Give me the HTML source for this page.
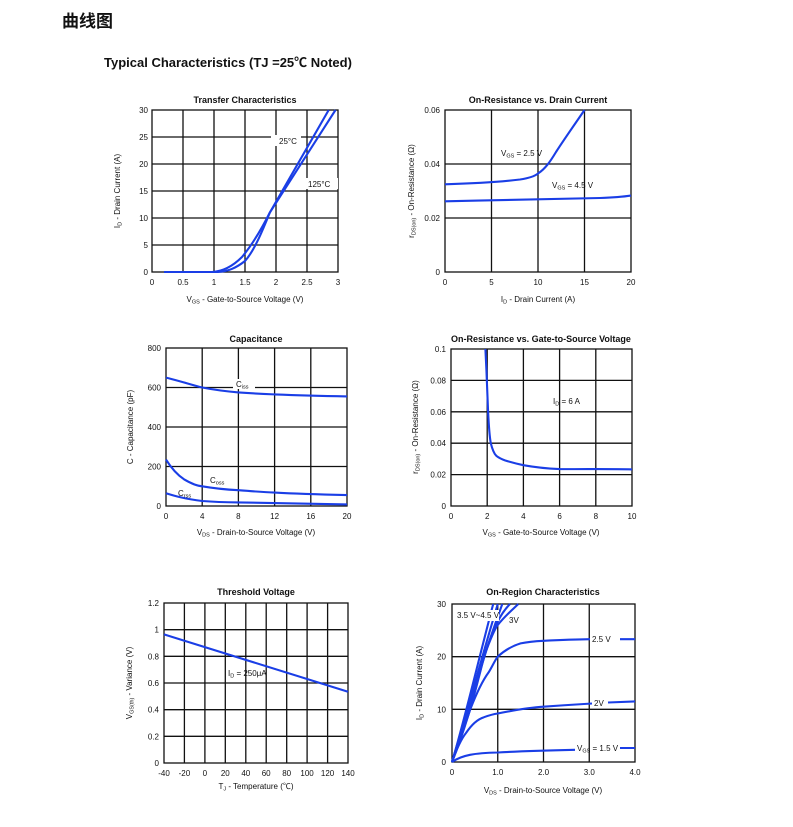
<!DOCTYPE html>
<html><head><meta charset="utf-8"><style>
html,body{margin:0;padding:0;background:#fff}
svg{display:block}
text{font-family:"Liberation Sans","Noto Sans CJK SC",sans-serif;fill:#111}
.t{font-size:8px}
.ti{font-size:9px;font-weight:bold}
.g{stroke:#111;stroke-width:1.3;fill:none}
.c{stroke:#1a3ee6;stroke-width:2.1;fill:none;stroke-linejoin:round}
.bg{fill:#fff}
</style></head><body>
<svg width="793" height="827" viewBox="0 0 793 827" xmlns="http://www.w3.org/2000/svg">
<text x="62" y="27" style="font-size:17px;font-weight:bold;font-family:'Noto Sans CJK SC',sans-serif">曲线图</text>
<text x="104" y="67" style="font-size:13px;font-weight:bold">Typical Characteristics (TJ =25℃ Noted)</text>

<!-- Chart 1 -->
<text class="ti" x="245" y="103" text-anchor="middle">Transfer Characteristics</text>
<rect class="g" x="152" y="110" width="186" height="162"/>
<path class="g" d="M183 110V272M214 110V272M245 110V272M276 110V272M307 110V272M152 137H338M152 164H338M152 191H338M152 218H338M152 245H338"/>
<g class="t" text-anchor="end"><text x="148" y="113">30</text><text x="148" y="140">25</text><text x="148" y="167">20</text><text x="148" y="194">15</text><text x="148" y="221">10</text><text x="148" y="248">5</text><text x="148" y="275">0</text></g>
<g class="t" text-anchor="middle"><text x="152" y="285">0</text><text x="183" y="285">0.5</text><text x="214" y="285">1</text><text x="245" y="285">1.5</text><text x="276" y="285">2</text><text x="307" y="285">2.5</text><text x="338" y="285">3</text></g>
<text class="t" x="245" y="302" text-anchor="middle">V<tspan font-size="5.5" dy="1.5">GS</tspan><tspan dy="-1.5"> - Gate-to-Source Voltage (V)</tspan></text>
<text class="t" transform="translate(120,191) rotate(-90)" text-anchor="middle">I<tspan font-size="5.5" dy="1.5">D</tspan><tspan dy="-1.5"> - Drain Current (A)</tspan></text>
<path class="c" d="M164 272H212C222 271.5 232 267 242 257 252 245 260 232 269.8 212.6 L328.7 110"/>
<path class="c" d="M164 272H218C228 271.5 236 268 245 261 254 251 262 232 269.8 212.6 L335.5 110"/>
<rect class="bg" x="271" y="135" width="30" height="11"/><text class="t" x="279" y="144">25°C</text>
<rect class="bg" x="305" y="178" width="33" height="11"/><text class="t" x="308" y="187">125°C</text>

<!-- Chart 2 -->
<text class="ti" x="538" y="103" text-anchor="middle">On-Resistance vs. Drain Current</text>
<rect class="g" x="445" y="110" width="186" height="162"/>
<path class="g" d="M491.5 110V272M538 110V272M584.5 110V272M445 164H631M445 218H631"/>
<g class="t" text-anchor="end"><text x="440" y="113">0.06</text><text x="440" y="167">0.04</text><text x="440" y="221">0.02</text><text x="440" y="275">0</text></g>
<g class="t" text-anchor="middle"><text x="445" y="285">0</text><text x="491.5" y="285">5</text><text x="538" y="285">10</text><text x="584.5" y="285">15</text><text x="631" y="285">20</text></g>
<text class="t" x="538" y="302" text-anchor="middle">I<tspan font-size="5.5" dy="1.5">D</tspan><tspan dy="-1.5"> - Drain Current (A)</tspan></text>
<text class="t" transform="translate(414,191) rotate(-90)" text-anchor="middle">r<tspan font-size="5.5" dy="1.5">DS(on)</tspan><tspan dy="-1.5"> - On-Resistance (Ω)</tspan></text>
<path class="c" d="M445 184.3C470 183.5 500 182 520 179.5 530 178 535 176 538 173.5 545 169 550 162 556 152 565 138 575 124 584.5 110"/>
<path class="c" d="M445 201.3C500 200 560 199 600 198 615 197.5 625 196.5 631 195.6"/>
<text class="t" x="501" y="156">V<tspan font-size="5.5" dy="1.5">GS</tspan><tspan dy="-1.5"> = 2.5 V</tspan></text>
<text class="t" x="552" y="188">V<tspan font-size="5.5" dy="1.5">GS</tspan><tspan dy="-1.5"> = 4.5 V</tspan></text>

<!-- Chart 3 -->
<text class="ti" x="256" y="342" text-anchor="middle">Capacitance</text>
<rect class="g" x="166" y="348" width="181" height="158"/>
<path class="g" d="M202.2 348V506M238.4 348V506M274.6 348V506M310.8 348V506M166 387.5H347M166 427H347M166 466.5H347"/>
<g class="t" text-anchor="end"><text x="161" y="351">800</text><text x="161" y="390.5">600</text><text x="161" y="430">400</text><text x="161" y="469.5">200</text><text x="161" y="509">0</text></g>
<g class="t" text-anchor="middle"><text x="166" y="519">0</text><text x="202.2" y="519">4</text><text x="238.4" y="519">8</text><text x="274.6" y="519">12</text><text x="310.8" y="519">16</text><text x="347" y="519">20</text></g>
<text class="t" x="256" y="535" text-anchor="middle">V<tspan font-size="5.5" dy="1.5">DS</tspan><tspan dy="-1.5"> - Drain-to-Source Voltage (V)</tspan></text>
<text class="t" transform="translate(133,427) rotate(-90)" text-anchor="middle">C - Capacitance (pF)</text>
<path class="c" d="M166 377.6C180 381 192 385 202.2 387.5 215 390 228 391.5 238.4 392.4 255 393.6 265 394 274.6 394.4 300 395.4 325 396 347 396.4"/>
<path class="c" d="M166 459.6C170 466 176 474 184 479.3 192 484 198 486 202.2 486.3 215 488.5 228 489.7 238.4 490.2 255 491.5 265 492.2 274.6 492.6 300 494 325 494.6 347 495.1"/>
<path class="c" d="M166 493.2C175 496 185 499 202.2 501 215 502 228 502.3 238.4 502.4 280 503.5 320 504 347 504.4"/>
<rect class="bg" x="233" y="379" width="22" height="10"/><text class="t" x="236" y="387">C<tspan font-size="5.5" dy="1.5">iss</tspan></text>
<text class="t" x="210" y="483">C<tspan font-size="5.5" dy="1.5">oss</tspan></text>
<text class="t" x="178" y="496">C<tspan font-size="5.5" dy="1.5">rss</tspan></text>

<!-- Chart 4 -->
<text class="ti" x="541" y="342" text-anchor="middle">On-Resistance vs. Gate-to-Source Voltage</text>
<rect class="g" x="451" y="349" width="181" height="157"/>
<path class="g" d="M487.2 349V506M523.4 349V506M559.6 349V506M595.8 349V506M451 474.6H632M451 443.2H632M451 411.8H632M451 380.4H632"/>
<g class="t" text-anchor="end"><text x="446" y="352">0.1</text><text x="446" y="383.4">0.08</text><text x="446" y="414.8">0.06</text><text x="446" y="446.2">0.04</text><text x="446" y="477.6">0.02</text><text x="446" y="509">0</text></g>
<g class="t" text-anchor="middle"><text x="451" y="519">0</text><text x="487.2" y="519">2</text><text x="523.4" y="519">4</text><text x="559.6" y="519">6</text><text x="595.8" y="519">8</text><text x="632" y="519">10</text></g>
<text class="t" x="541" y="535" text-anchor="middle">V<tspan font-size="5.5" dy="1.5">GS</tspan><tspan dy="-1.5"> - Gate-to-Source Voltage (V)</tspan></text>
<text class="t" transform="translate(418,427) rotate(-90)" text-anchor="middle">r<tspan font-size="5.5" dy="1.5">DS(on)</tspan><tspan dy="-1.5"> - On-Resistance (Ω)</tspan></text>
<path class="c" d="M485.4 349C486.5 370 487.5 395 488.1 411.8 489 430 489.8 438 490.8 443.2 492.5 450 494 453.5 496.3 455.8 499 458 502 459.3 505.3 460.5 512 462.5 518 464 523.4 465.2 535 467.3 548 468.6 559.6 469.1 590 469.2 615 468.9 632 469.4"/>
<text class="t" x="553" y="404">I<tspan font-size="5.5" dy="1.5">D</tspan><tspan dy="-1.5"> = 6 A</tspan></text>

<!-- Chart 5 -->
<text class="ti" x="256" y="595" text-anchor="middle">Threshold Voltage</text>
<rect class="g" x="164" y="603" width="184" height="160"/>
<path class="g" d="M184.4 603V763M204.9 603V763M225.3 603V763M245.8 603V763M266.2 603V763M286.7 603V763M307.1 603V763M327.6 603V763M164 629.7H348M164 656.3H348M164 683H348M164 709.7H348M164 736.3H348"/>
<g class="t" text-anchor="end"><text x="159" y="606">1.2</text><text x="159" y="632.7">1</text><text x="159" y="659.3">0.8</text><text x="159" y="686">0.6</text><text x="159" y="712.7">0.4</text><text x="159" y="739.3">0.2</text><text x="159" y="766">0</text></g>
<g class="t" text-anchor="middle"><text x="164" y="776">-40</text><text x="184.4" y="776">-20</text><text x="204.9" y="776">0</text><text x="225.3" y="776">20</text><text x="245.8" y="776">40</text><text x="266.2" y="776">60</text><text x="286.7" y="776">80</text><text x="307.1" y="776">100</text><text x="327.6" y="776">120</text><text x="348" y="776">140</text></g>
<text class="t" x="256" y="789" text-anchor="middle">T<tspan font-size="5.5" dy="1.5">J</tspan><tspan dy="-1.5"> - Temperature (℃)</tspan></text>
<text class="t" transform="translate(132,683) rotate(-90)" text-anchor="middle">V<tspan font-size="5.5" dy="1.5">GS(th)</tspan><tspan dy="-1.5"> - Variance (V)</tspan></text>
<line class="c" x1="164" y1="634.4" x2="348" y2="691.7"/>
<text class="t" x="228" y="676">I<tspan font-size="5.5" dy="1.5">D</tspan><tspan dy="-1.5"> = 250μA</tspan></text>

<!-- Chart 6 -->
<text class="ti" x="543" y="595" text-anchor="middle">On-Region Characteristics</text>
<rect class="g" x="452" y="604" width="183" height="158"/>
<path class="g" d="M497.75 604V762M543.5 604V762M589.25 604V762M452 709.3H635M452 656.7H635"/>
<g class="t" text-anchor="end"><text x="446" y="607">30</text><text x="446" y="659.7">20</text><text x="446" y="712.3">10</text><text x="446" y="765">0</text></g>
<g class="t" text-anchor="middle"><text x="452" y="775">0</text><text x="497.75" y="775">1.0</text><text x="543.5" y="775">2.0</text><text x="589.25" y="775">3.0</text><text x="635" y="775">4.0</text></g>
<text class="t" x="543" y="793" text-anchor="middle">V<tspan font-size="5.5" dy="1.5">DS</tspan><tspan dy="-1.5"> - Drain-to-Source Voltage (V)</tspan></text>
<text class="t" transform="translate(422,683) rotate(-90)" text-anchor="middle">I<tspan font-size="5.5" dy="1.5">D</tspan><tspan dy="-1.5"> - Drain Current (A)</tspan></text>
<path class="c" d="M452 762C462 755 475 753 497.75 752.5 515 751.5 530 750.8 575 749.8M620 748H635"/>
<path class="c" d="M452 762C457 748 462 738 466 733 472 724 478 719 484 717.2 490 715 494 714 497.75 713.5 515 710 530 707.5 543.5 706.7 560 705.5 575 704.5 592 703.5M608 702.5L635 701.4"/>
<path class="c" d="M452 762C460 740 466 722 470.3 709.3 477 692 483 680 488.6 672.4 492 667 495 660 497.75 656.6 505 650 512 646 520.6 643.4 528 641.8 535 641.2 543.5 640.8 560 640 575 639.4 590 639.2M620 639.2H635"/>
<path class="c" d="M452 762C465 730 476 690 484 656.6 490 640 494 630 497.75 625 505 616 512 610 518.3 604"/>
<path class="c" d="M452 762C465 725 480 670 488 645 494 628 500 614 510 604"/>
<path class="c" d="M452 762C465 720 480 665 502.3 604"/>
<path class="c" d="M452 762C465 720 478 670 497.75 604"/>
<path class="c" d="M452 762C464 722 476 670 493.2 604"/>
<rect class="bg" x="456" y="610" width="43" height="11"/><text class="t" x="457" y="618">3.5 V~4.5 V</text>
<text class="t" x="509" y="623">3V</text>
<text class="t" x="592" y="642">2.5 V</text>
<text class="t" x="594" y="706">2V</text>
<text class="t" x="577" y="751">V<tspan font-size="5.5" dy="1.5">GS</tspan><tspan dy="-1.5"> = 1.5 V</tspan></text>
</svg>
</body></html>
